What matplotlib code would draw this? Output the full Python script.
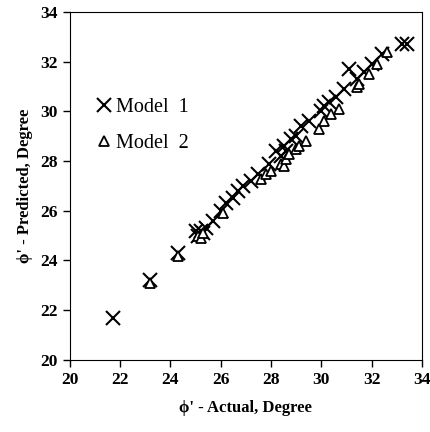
import numpy as np
import matplotlib.pyplot as plt

# values
actual1 = [21.7, 23.2, 24.3, 25.0, 25.1, 25.2, 25.3, 25.4, 25.7, 26.0, 26.2, 26.5, 26.7, 26.9,
           27.2, 27.5, 27.9, 28.2, 28.4, 28.5, 28.6, 28.8, 29.0, 29.2, 29.5, 30.0, 30.1, 30.3,
           30.6, 30.9, 31.1, 31.4, 31.7, 32.0, 32.4, 33.2, 33.4]
pred1 = [21.7, 23.2, 24.3, 25.2, 25.0, 25.2, 25.1, 25.3, 25.6, 26.0, 26.3, 26.5, 26.8, 27.0,
         27.2, 27.5, 27.9, 28.4, 28.2, 28.6, 28.4, 28.9, 29.0, 29.4, 29.6, 30.0, 30.2, 30.4,
         30.6, 30.9, 31.7, 31.3, 31.6, 31.9, 32.3, 32.7, 32.7]

actual2 = [23.2, 24.3, 25.1, 25.2, 25.3, 26.1, 27.6, 27.8, 28.0, 28.4, 28.5, 28.6, 28.7,
           29.0, 29.1, 29.4, 29.9, 30.1, 30.4, 30.7, 31.4, 31.5, 31.9, 32.2, 32.6]
pred2 = [23.1, 24.2, 25.0, 24.9, 25.1, 25.9, 27.3, 27.5, 27.6, 27.9, 27.8, 28.1, 28.3,
         28.5, 28.6, 28.8, 29.3, 29.6, 29.9, 30.1, 31.0, 31.1, 31.5, 31.9, 32.4]

ticks = np.arange(20, 35, 2)

plt.rcParams['font.family'] = ['Liberation Serif', 'DejaVu Serif']

fig = plt.figure(figsize=(4.31, 4.32), dpi=100)
ax = fig.add_axes([0.162, 0.167, 0.817, 0.805])

ax.plot(actual1, pred1, linestyle='none', marker='x', markersize=10, markeredgewidth=1.5,
        color='black', label='Model  1')
ax.plot(actual2, pred2, linestyle='none', marker='^', markersize=6.5, markeredgewidth=1.3,
        markerfacecolor='white', markeredgecolor='black', label='Model  2')

ax.set_xlim(20, 34)
ax.set_ylim(20, 34)
ax.set_xticks(ticks)
ax.set_yticks(ticks)
ax.tick_params(direction='out', length=5, width=1, labelsize=12.5, top=False, right=False)
for lab in ax.get_xticklabels() + ax.get_yticklabels():
    lab.set_fontweight('bold')

ax.set_xlabel("\u03d5' - Actual, Degree", fontsize=12, fontweight='bold', labelpad=9)
ax.set_ylabel("\u03d5' - Predicted, Degree", fontsize=12, fontweight='bold', labelpad=5)

leg = ax.legend(loc='upper left', bbox_to_anchor=(0.05, 0.775), frameon=False, fontsize=14.5,
                handlelength=0.8, handletextpad=0.2, labelspacing=0.8, borderaxespad=0)

fig.savefig('out.png', dpi=100)
